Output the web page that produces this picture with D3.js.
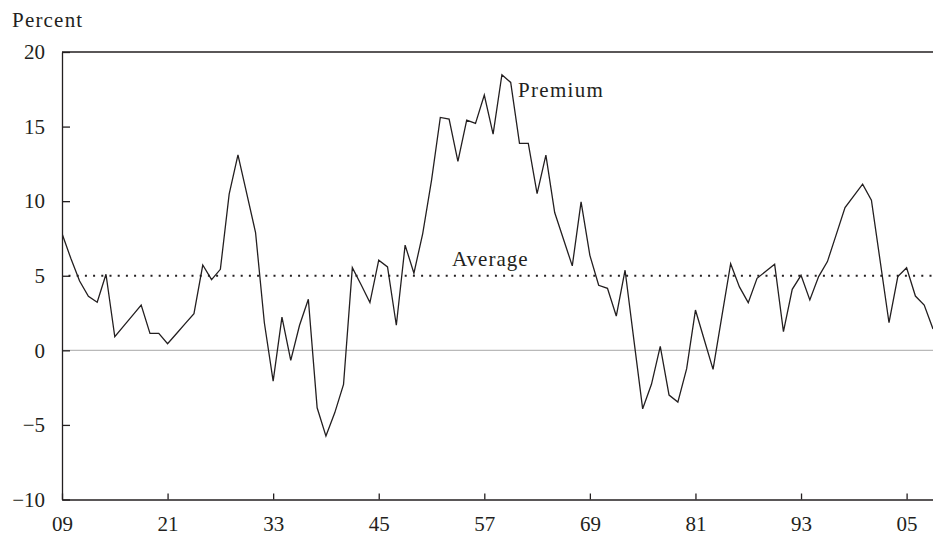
<!DOCTYPE html>
<html>
<head>
<meta charset="utf-8">
<script src="https://cdn.jsdelivr.net/npm/d3@7/dist/d3.min.js"></script>
<style>
  html, body { margin: 0; padding: 0; background: #fff; }
  svg { display: block; }
  text { font-family: "Liberation Serif", "Times New Roman", serif; fill: #231f20; }
</style>
</head>
<body>
<svg id="chart" width="933" height="539"></svg>
<script>
// ---- data ----
const startYear = 1909;
const premium = [
  7.83, 6.17, 4.65, 3.62, 3.22, 5.10, 0.91, 1.62, 2.33, 3.04,   // 1909-1918
  1.14, 1.14, 0.44, 1.11, 1.79, 2.46, 5.72, 4.74, 5.43, 10.47,  // 1919-1928
  13.10, 10.50, 7.90, 1.85, -2.06, 2.23, -0.67, 1.68, 3.42, -3.85, // 1929-1938
  -5.75, -4.19, -2.28, 5.54, 4.40, 3.20, 6.04, 5.59, 1.68, 7.05,  // 1939-1948
  5.17, 7.83, 11.40, 15.61, 15.50, 12.66, 15.44, 15.21, 17.11, 14.50, // 1949-1958
  18.48, 17.96, 13.87, 13.87, 10.51, 13.09, 9.24, 7.45, 5.66, 9.95,  // 1959-1968
  6.37, 4.36, 4.16, 2.30, 5.37, 0.70, -3.92, -2.28, 0.27, -3.00,     // 1969-1978
  -3.47, -1.23, 2.70, 0.71, -1.28, 2.27, 5.81, 4.25, 3.20, 4.83,     // 1979-1988
  5.30, 5.77, 1.25, 4.09, 5.03, 3.38, 4.94, 5.95, 7.76, 9.57,        // 1989-1998
  10.36, 11.14, 10.07, 5.96, 1.85, 4.94, 5.54, 3.64, 3.04, 1.43      // 1999-2008
];
const years = premium.map((_, i) => startYear + i);
const average = 5;
const xTickYears = [1909, 1921, 1933, 1945, 1957, 1969, 1981, 1993, 2005];
const xTickLabels = ["09", "21", "33", "45", "57", "69", "81", "93", "05"];
const yTicks = [-10, -5, 0, 5, 10, 15, 20];
const yLabel = "Percent";
const seriesLabel = "Premium";
const averageLabel = "Average";

// ---- layout ----
const svg = d3.select("#chart");
const mLeft = 62, mRight = 933, mTop = 52, mBottom = 499.5;

const x = d3.scaleLinear().domain([years[0], years[years.length - 1]]).range([mLeft, mRight]);
const y = d3.scaleLinear().domain([-10, 20]).range([mBottom, mTop]);

svg.append("defs").append("clipPath").attr("id", "plotClip")
  .append("rect").attr("x", mLeft).attr("y", mTop).attr("width", mRight - mLeft).attr("height", mBottom - mTop);

// zero line
svg.append("line")
  .attr("x1", mLeft).attr("x2", mRight)
  .attr("y1", y(0)).attr("y2", y(0))
  .attr("stroke", "#b9b9b9").attr("stroke-width", 1.2);

// average dotted line
svg.append("line")
  .attr("x1", mLeft + 6.5).attr("x2", mRight)
  .attr("y1", y(average)).attr("y2", y(average))
  .attr("stroke", "#231f20").attr("stroke-width", 2.2)
  .attr("stroke-dasharray", "2 6.2");

// premium line
const line = d3.line().x((d, i) => x(years[i])).y(d => y(d));
svg.append("path")
  .datum(premium)
  .attr("clip-path", "url(#plotClip)")
  .attr("fill", "none")
  .attr("stroke", "#231f20")
  .attr("stroke-width", 1.3)
  .attr("stroke-linejoin", "miter")
  .attr("d", line);

// y axis (ticks pointing inward)
const yAxis = d3.axisLeft(y).tickValues(yTicks).tickSizeInner(-8).tickSizeOuter(0)
  .tickFormat(d => d < 0 ? "\u2212" + Math.abs(d) : String(d)).tickPadding(17);
const gy = svg.append("g").attr("transform", `translate(${mLeft},0)`).call(yAxis);
gy.select(".domain").attr("stroke", "#231f20").attr("stroke-width", 1.3);
gy.selectAll(".tick line").attr("stroke", "#231f20").attr("stroke-width", 1.3);
gy.selectAll(".tick text").attr("font-size", 21).attr("font-family", "Liberation Serif").attr("fill", "#231f20");

// x axis (ticks pointing up)
const xAxis = d3.axisBottom(x).tickValues(xTickYears).tickSizeInner(-6).tickSizeOuter(0)
  .tickFormat((d, i) => xTickLabels[i]).tickPadding(17);
const gx = svg.append("g").attr("transform", `translate(0,${mBottom})`).call(xAxis);
gx.select(".domain").attr("stroke", "#231f20").attr("stroke-width", 1.3);
gx.selectAll(".tick line").attr("stroke", "#231f20").attr("stroke-width", 1.3);
gx.selectAll(".tick text").attr("font-size", 21).attr("font-family", "Liberation Serif").attr("fill", "#231f20");

// top border
svg.append("line")
  .attr("x1", mLeft).attr("x2", mRight).attr("y1", mTop).attr("y2", mTop)
  .attr("stroke", "#231f20").attr("stroke-width", 1.3);

// labels
svg.append("text").attr("x", 12).attr("y", 27)
  .attr("font-size", 21).attr("letter-spacing", 1.2).text(yLabel);
svg.append("text").attr("x", 518).attr("y", 97)
  .attr("font-size", 21).attr("letter-spacing", 1.3).text(seriesLabel);
svg.append("text").attr("x", 452).attr("y", 266)
  .attr("font-size", 21).attr("letter-spacing", 1.0).text(averageLabel);
</script>
</body>
</html>
